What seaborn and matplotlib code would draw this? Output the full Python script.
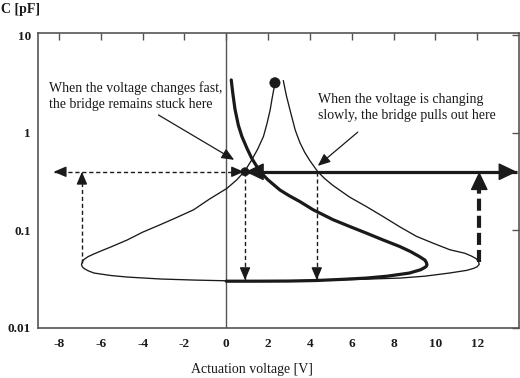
import matplotlib
matplotlib.use("Agg")
import matplotlib.pyplot as plt
import pandas as pd
import seaborn as sns

# ---------------- data ----------------
# thin C-V curve (bridge with trapped charge), traced from the dot around the loop
thin_v = [2.33, 2.2, 2.1, 1.95, 1.78, 1.5, 1.22, 0.9, 0.5, 0.03, -0.8, -1.56, -2.4, -3.14,
          -4.0, -4.73, -5.5, -6.0, -6.32, -6.6, -6.8, -6.88, -6.92,
          -6.88, -6.8, -6.6, -6.32, -5.5, -4.73, -3.14, -1.5, 0.0, 2.5, 4.5, 6.5, 8.3,
          9.5, 10.67, 11.5, 11.85, 12.0, 12.1,
          12.06, 11.95, 11.7, 11.4, 10.7, 9.9, 9.1, 8.3, 7.5, 6.7, 5.9, 5.1, 4.7, 4.38,
          4.0, 3.75, 3.52, 3.3, 3.05, 2.88, 2.8, 2.73]
thin_c = [3.25, 2.3, 1.72, 1.25, 0.92, 0.68, 0.53, 0.41, 0.33, 0.27, 0.21, 0.163, 0.135, 0.115,
          0.096, 0.080, 0.068, 0.0615, 0.0575, 0.054, 0.0505, 0.0478, 0.0446,
          0.0424, 0.0408, 0.0386, 0.0366, 0.0345, 0.0333, 0.0318, 0.031, 0.0305, 0.0303, 0.0308,
          0.0316, 0.0325, 0.034, 0.0366, 0.039, 0.041, 0.0425, 0.045,
          0.048, 0.0515, 0.055, 0.0585, 0.0634, 0.074, 0.087, 0.109, 0.139, 0.176, 0.22,
          0.29, 0.342, 0.40, 0.52, 0.635, 0.80, 1.07, 1.72, 2.4, 2.9, 3.45]

# thick C-V curve (uncharged bridge), positive voltages only
thick_v = [0.24, 0.31, 0.42, 0.58, 0.75, 1.0, 1.22, 1.62, 2.0, 2.57, 3.0, 3.52, 4.16, 5.11,
           5.9, 6.7, 7.5, 8.29, 8.8, 9.24, 9.5, 9.57, 9.6, 9.57, 9.5, 9.3, 8.76, 7.7, 6.7,
           5.5, 4.32, 3.0, 1.5, 0.0]
thick_c = [3.5, 2.6, 1.75, 1.2, 0.92, 0.69, 0.55, 0.40, 0.33, 0.26, 0.228, 0.198, 0.163, 0.129,
           0.110, 0.094, 0.080, 0.0686, 0.061, 0.054, 0.0497, 0.047, 0.0446, 0.043, 0.0418,
           0.0396, 0.0366, 0.034, 0.0325, 0.0315, 0.0307, 0.0303, 0.0302, 0.0302]

# marker points
dot_v = [2.33, 0.9]
dot_c = [3.27, 0.40]

# guide arrows (voltage / capacitance coordinates)
level_c = 0.40              # switching level
bottom_c = 0.031            # collapsed (down) state
fast_h_v = [-8.25, 0.85]    # dashed double arrow
slow_h_v = [0.92, 13.9]     # thick double arrow
left_up_v = -6.9            # dashed arrow up from the left nose
left_nose_c = 0.046
fast_down_v = 0.9           # dashed arrow down (fast)
slow_down_v = 4.33          # dashed arrow down (slow)
right_up_v = 12.1           # thick dashed arrow up from right nose
right_nose_c = 0.047

x_ticks = [-8, -6, -4, -2, 0, 2, 4, 6, 8, 10, 12]
y_ticks = [0.01, 0.1, 1, 10]
y_tick_labels = ["0.01", "0.1", "1", "10"]

note_fast = "When the voltage changes fast,\nthe bridge remains stuck here"
note_slow = "When the voltage is changing\nslowly, the bridge pulls out here"
note_fast_text = (-8.48, 2.39)
note_fast_from = (-3.24, 1.53)
note_fast_to = (0.38, 0.53)
note_slow_text = (4.38, 1.82)
note_slow_from = (6.29, 1.02)
note_slow_to = (4.38, 0.46)

# ---------------- figure ----------------
sns.set_theme(style="white")
plt.rcParams['font.family'] = ['Liberation Serif', 'DejaVu Serif']
ink = '#1a1a1a'
frame = '#555555'

fig = plt.figure(figsize=(5.2, 3.78), dpi=100)
ax = fig.add_axes([38 / 520, 1 - 328 / 378, (519 - 38) / 520, (328 - 33) / 378])
ax.set_yscale('log')
ax.set_xlim(-9, 14)
ax.set_ylim(0.01, 10.6)

ax.axvline(0, color=frame, lw=1.0, zorder=1)

thin_df = pd.DataFrame({'V': thin_v, 'C': thin_c})
thick_df = pd.DataFrame({'V': thick_v, 'C': thick_c})
sns.lineplot(data=thin_df, x='V', y='C', sort=False, estimator=None, color=ink, lw=0.95, ax=ax)
sns.lineplot(data=thick_df, x='V', y='C', sort=False, estimator=None, color=ink, lw=2.3, ax=ax)
sns.scatterplot(x=dot_v, y=dot_c, size=[55, 34], sizes=(34, 55), color=ink,
                edgecolor=ink, legend=False, ax=ax, zorder=5)

thin_head = dict(arrowstyle='-|>,head_length=0.75,head_width=0.32', color=ink, lw=1.0,
                 shrinkA=0, shrinkB=0, mutation_scale=10)
big_head = dict(arrowstyle='-|>,head_length=1.05,head_width=0.5', color=ink, lw=1.0,
                shrinkA=0, shrinkB=0, mutation_scale=11)

def head(x, y, dx, dy, props):
    ax.annotate('', xy=(x, y), xytext=(dx, dy), textcoords='offset points', arrowprops=props)

dash_thin = (0, (3, 2))
# dashed horizontal double arrow
ax.plot(fast_h_v, [level_c, level_c], color=ink, lw=1.0, ls=dash_thin)
head(fast_h_v[0], level_c, 6, 0, thin_head)
head(fast_h_v[1], level_c, -6, 0, thin_head)
# dashed up arrow on the left
ax.plot([left_up_v, left_up_v], [left_nose_c, level_c], color=ink, lw=1.0, ls=dash_thin)
head(left_up_v, level_c, 0, -6, thin_head)
# dashed down arrows
for xv in (fast_down_v, slow_down_v):
    ax.plot([xv, xv], [level_c, bottom_c], color=ink, lw=1.0, ls=dash_thin)
    head(xv, bottom_c, 0, 6, thin_head)

# thick solid double arrow
ax.plot(slow_h_v, [level_c, level_c], color=ink, lw=2.3, solid_capstyle='butt')
head(slow_h_v[1], level_c, -8, 0, big_head)
head(slow_h_v[0], level_c, 8, 0, big_head)
# thick dashed up arrow on the right
ax.plot([right_up_v, right_up_v], [right_nose_c, level_c * 0.82], color=ink, lw=3.0,
        ls=(0, (2.9, 1.2)), solid_capstyle='butt', dash_capstyle='butt')
head(right_up_v, level_c, 0, -8, big_head)

# annotations
ax.text(*note_fast_text, note_fast, fontsize=10, color=ink, ha='left', va='center',
        linespacing=1.3)
ax.text(*note_slow_text, note_slow, fontsize=10, color=ink, ha='left', va='center',
        linespacing=1.3)
ann = dict(arrowstyle='-|>,head_length=0.75,head_width=0.32', color=ink, lw=0.9,
           shrinkA=0, shrinkB=0, mutation_scale=10)
ax.annotate('', xy=note_fast_to, xytext=note_fast_from, arrowprops=ann)
ax.annotate('', xy=note_slow_to, xytext=note_slow_from, arrowprops=ann)

# axes styling
ax.set_xticks(x_ticks)
ax.set_xticklabels([str(t) for t in x_ticks])
ax.set_yticks(y_ticks)
ax.set_yticklabels(y_tick_labels)
ax.minorticks_off()
ax.tick_params(axis='both', which='major', direction='in', length=5, width=1.0,
               color=frame, top=True, right=True, labelsize=9.5, labelcolor=ink)
ax.tick_params(axis='x', pad=7)
ax.tick_params(axis='y', pad=5)
for lab in ax.get_xticklabels() + ax.get_yticklabels():
    lab.set_fontweight('bold')
for sp in ax.spines.values():
    sp.set_color(frame)
    sp.set_linewidth(1.2)
ax.set_xlabel('')
ax.set_ylabel('')

fig.text(251.5 / 520, 1 - 370 / 378, 'Actuation voltage [V]', ha='center', va='center',
         fontsize=10, color=ink)
fig.text(1 / 520, 1 - 9 / 378, 'C [pF]', ha='left', va='center', fontsize=10,
         fontweight='bold', color=ink)

fig.savefig('out.png', dpi=100)
